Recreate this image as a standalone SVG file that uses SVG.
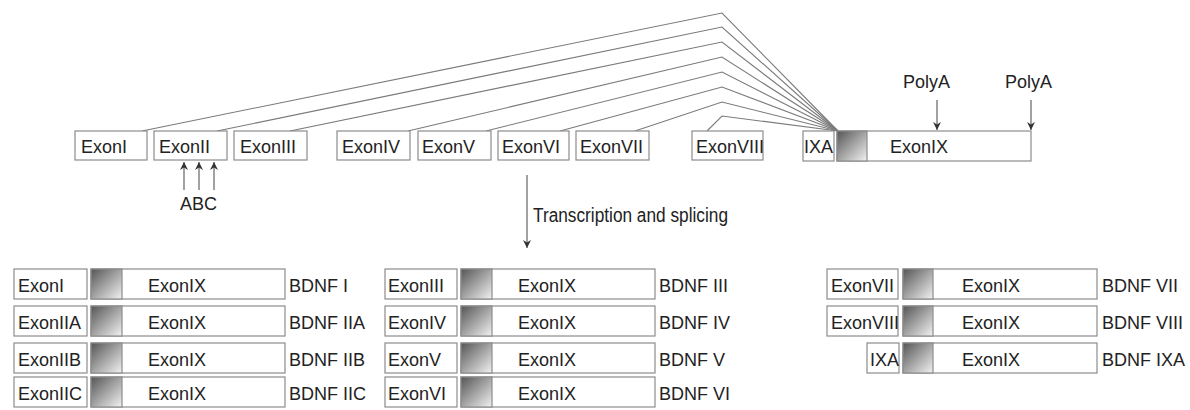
<svg xmlns="http://www.w3.org/2000/svg" width="1190" height="410" viewBox="0 0 1190 410">
<defs>
<linearGradient id="g" x1="0" y1="0" x2="1" y2="1">
<stop offset="0" stop-color="#555"/>
<stop offset="1" stop-color="#f2f2f2"/>
</linearGradient>
<marker id="ah" viewBox="0 0 10 10" refX="10" refY="5" markerWidth="8" markerHeight="8" markerUnits="userSpaceOnUse" orient="auto">
<path d="M0,0 L10,5 L0,10 L3,5 z" fill="#333"/>
</marker>
<style>
.b{fill:#fff;stroke:#8c8c8c;stroke-width:1.2}
.gr{fill:url(#g);stroke:#8c8c8c;stroke-width:1.2}
text{font-family:"Liberation Sans",Arial,sans-serif;font-size:18px;fill:#222}
.ln{fill:none;stroke:#7a7a7a;stroke-width:1.1}
.ar{fill:none;stroke:#555;stroke-width:1.1;marker-end:url(#ah)}
</style>
</defs>
<rect width="1190" height="410" fill="#fff"/>

<g id="connectors">
<polyline class="ln" points="142,131 722,13 838,131"/>
<polyline class="ln" points="217,131 722,27 838,131"/>
<polyline class="ln" points="290,131 722,42 838,131"/>
<polyline class="ln" points="408,131 722,57 838,131"/>
<polyline class="ln" points="486,131 722,72 838,131"/>
<polyline class="ln" points="560,131 722,87 838,131"/>
<polyline class="ln" points="635,131 722,102 838,131"/>
<polyline class="ln" points="707,131 722,116 838,131"/>
<line class="ar" x1="184" y1="190" x2="184" y2="162"/>
<line class="ar" x1="199" y1="190" x2="199" y2="162"/>
<line class="ar" x1="214" y1="190" x2="214" y2="162"/>
<line class="ar" x1="937" y1="100" x2="937" y2="130"/>
<line class="ar" x1="1031" y1="100" x2="1031" y2="130"/>
<line class="ar" x1="527" y1="175" x2="527" y2="248"/>
</g>

<g id="labels">
<text x="180" y="210">ABC</text>
<text x="903" y="88">PolyA</text>
<text x="1005" y="88">PolyA</text>
<text x="533" y="222" style="font-size:20px" textLength="195" lengthAdjust="spacingAndGlyphs">Transcription and splicing</text>
</g>

<g id="exonI"><rect class="b" x="75" y="131" width="72" height="29"/><text x="81" y="152.5">ExonI</text></g>
<g id="exonII"><rect class="b" x="154" y="131" width="73" height="29"/><text x="159" y="152.5">ExonII</text></g>
<g id="exonIII"><rect class="b" x="234" y="131" width="73" height="29"/><text x="240" y="152.5">ExonIII</text></g>
<g id="exonIV"><rect class="b" x="337" y="131" width="73" height="29"/><text x="342" y="152.5">ExonIV</text></g>
<g id="exonV"><rect class="b" x="418" y="131" width="73" height="29"/><text x="422" y="152.5">ExonV</text></g>
<g id="exonVI"><rect class="b" x="498" y="131" width="71" height="29"/><text x="502" y="152.5">ExonVI</text></g>
<g id="exonVII"><rect class="b" x="576" y="131" width="73" height="29"/><text x="580" y="152.5">ExonVII</text></g>
<g id="exonVIII"><rect class="b" x="692" y="131" width="71" height="29"/><text x="696" y="152.5">ExonVIII</text></g>
<g id="exonIXA"><rect class="b" x="803" y="131" width="31" height="30"/><text x="804" y="153">IXA</text></g>
<g id="exonIX"><rect class="b" x="837" y="131" width="194" height="30"/><rect class="gr" x="837" y="131" width="30" height="30"/><text x="890" y="153">ExonIX</text></g>

<g id="bdnfI"><rect class="b" x="14" y="269" width="73" height="30"/><rect class="b" x="91" y="269" width="194" height="30"/><rect class="gr" x="91" y="269" width="31" height="30"/><text x="18" y="291.5">ExonI</text><text x="148" y="291.5">ExonIX</text><text x="289" y="291.5">BDNF I</text></g>
<g id="bdnfIIA"><rect class="b" x="14" y="306" width="73" height="30"/><rect class="b" x="91" y="306" width="194" height="30"/><rect class="gr" x="91" y="306" width="31" height="30"/><text x="18" y="328.5">ExonIIA</text><text x="148" y="328.5">ExonIX</text><text x="289" y="328.5">BDNF IIA</text></g>
<g id="bdnfIIB"><rect class="b" x="14" y="343" width="73" height="30"/><rect class="b" x="91" y="343" width="194" height="30"/><rect class="gr" x="91" y="343" width="31" height="30"/><text x="18" y="365.5">ExonIIB</text><text x="148" y="365.5">ExonIX</text><text x="289" y="365.5">BDNF IIB</text></g>
<g id="bdnfIIC"><rect class="b" x="14" y="377" width="73" height="30"/><rect class="b" x="91" y="377" width="194" height="30"/><rect class="gr" x="91" y="377" width="31" height="30"/><text x="18" y="399.5">ExonIIC</text><text x="148" y="399.5">ExonIX</text><text x="289" y="399.5">BDNF IIC</text></g>

<g id="bdnfIII"><rect class="b" x="385" y="269" width="72" height="30"/><rect class="b" x="461" y="269" width="194" height="30"/><rect class="gr" x="461" y="269" width="31" height="30"/><text x="388" y="291.5">ExonIII</text><text x="518" y="291.5">ExonIX</text><text x="659" y="291.5">BDNF III</text></g>
<g id="bdnfIV"><rect class="b" x="385" y="306" width="72" height="30"/><rect class="b" x="461" y="306" width="194" height="30"/><rect class="gr" x="461" y="306" width="31" height="30"/><text x="388" y="328.5">ExonIV</text><text x="518" y="328.5">ExonIX</text><text x="659" y="328.5">BDNF IV</text></g>
<g id="bdnfV"><rect class="b" x="385" y="343" width="72" height="30"/><rect class="b" x="461" y="343" width="194" height="30"/><rect class="gr" x="461" y="343" width="31" height="30"/><text x="388" y="365.5">ExonV</text><text x="518" y="365.5">ExonIX</text><text x="659" y="365.5">BDNF V</text></g>
<g id="bdnfVI"><rect class="b" x="385" y="377" width="72" height="30"/><rect class="b" x="461" y="377" width="194" height="30"/><rect class="gr" x="461" y="377" width="31" height="30"/><text x="388" y="399.5">ExonVI</text><text x="518" y="399.5">ExonIX</text><text x="659" y="399.5">BDNF VI</text></g>

<g id="bdnfVII"><rect class="b" x="827" y="269" width="71" height="30"/><rect class="b" x="903" y="269" width="194" height="30"/><rect class="gr" x="903" y="269" width="30" height="30"/><text x="831" y="291.5">ExonVII</text><text x="962" y="291.5">ExonIX</text><text x="1102" y="291.5">BDNF VII</text></g>
<g id="bdnfVIII"><rect class="b" x="827" y="306" width="71" height="30"/><rect class="b" x="903" y="306" width="194" height="30"/><rect class="gr" x="903" y="306" width="30" height="30"/><text x="831" y="328.5">ExonVIII</text><text x="962" y="328.5">ExonIX</text><text x="1102" y="328.5">BDNF VIII</text></g>
<g id="bdnfIXA"><rect class="b" x="867" y="343" width="32" height="30"/><rect class="b" x="903" y="343" width="194" height="30"/><rect class="gr" x="903" y="343" width="30" height="30"/><text x="870" y="365.5">IXA</text><text x="962" y="365.5">ExonIX</text><text x="1102" y="365.5">BDNF IXA</text></g>
</svg>
